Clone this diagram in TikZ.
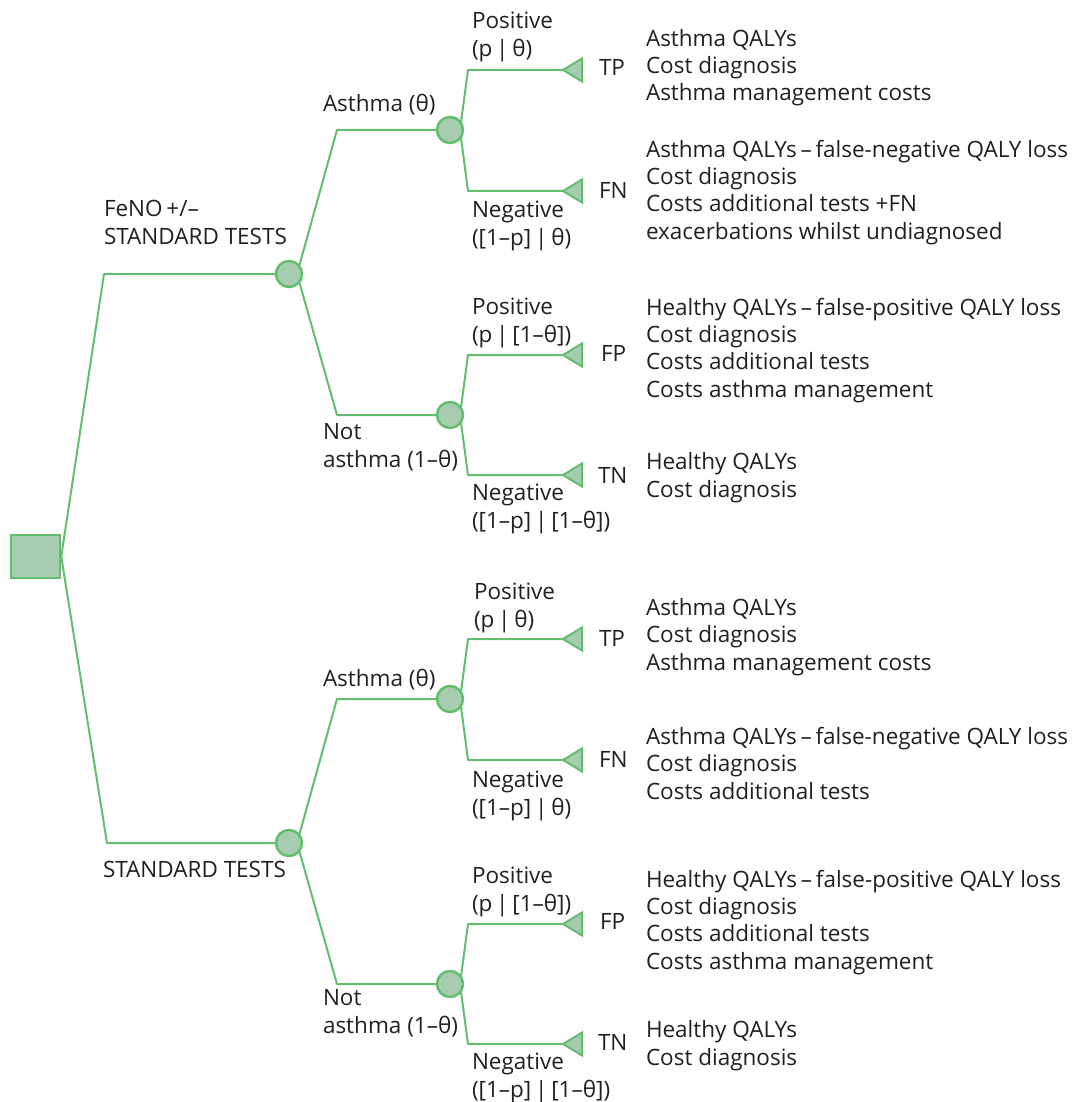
\documentclass[tikz,border=0pt]{standalone}
\usepackage{fontspec}
\setmainfont{Open Sans}
\usetikzlibrary{calc,backgrounds}
\definecolor{ink}{HTML}{231F20}
\definecolor{edgegreen}{HTML}{64BD6C}
\definecolor{nodefill}{HTML}{A6CDB0}
\begin{document}
\begin{tikzpicture}[x=1pt,y=-1pt,
  edge/.style={draw=edgegreen, line width=2pt, line join=round},
  chance/.style={circle, draw=edgegreen, fill=nodefill, line width=2.5pt, minimum size=26pt, inner sep=0pt},
  decision/.style={rectangle, draw=edgegreen, fill=nodefill, line width=2.5pt, minimum width=49pt, minimum height=43pt, inner sep=0pt},
  term/.style={draw=edgegreen, fill=nodefill, line width=2pt, line join=miter},
  txt/.style={anchor=base west, inner sep=0pt, outer sep=0pt, align=left, text=ink, font=\fontsize{22.5}{28}\selectfont},
  rtxt/.style={anchor=base west, inner sep=0pt, outer sep=0pt, align=left, text=ink, font=\fontsize{22.5}{27.3}\selectfont}]
\useasboundingbox (0,0) rectangle (1083,1102);

% knees
\coordinate (k0) at (104,0);
\coordinate (k0b) at (107,0);
\coordinate (k1) at (337,0);
\coordinate (k2) at (468,0);

% decision node
\node[decision] (root) at (35.5,556.5) {};

% chance nodes
\node[chance] (C1) at (289,274) {};
\node[chance] (A1) at (450,130) {};
\node[chance] (N1) at (450,415) {};
\node[chance] (C2) at (289,843) {};
\node[chance] (A2) at (450,699) {};
\node[chance] (N2) at (450,984) {};

% terminal tips
\coordinate (tTP1) at (563,70);
\coordinate (tFN1) at (563,191);
\coordinate (tFP1) at (563,355);
\coordinate (tTN1) at (563,475);
\coordinate (tTP2) at (563,639);
\coordinate (tFN2) at (563,760);
\coordinate (tFP2) at (563,924);
\coordinate (tTN2) at (563,1044);
\foreach \t in {tTP1,tFN1,tFP1,tTN1,tTP2,tFN2,tFP2,tTN2}{
  \path[term] (\t) -- ++(19,-11.5) -- ++(0,23) -- cycle;
}

\begin{scope}[on background layer]
\draw[edge] (root.east) -- (C1 -| k0) -- (C1.center);
\draw[edge] (root.east) -- (C2 -| k0b) -- (C2.center);
\draw[edge] ($(C1)+(8,0)$) -- (A1 -| k1) -- (A1.center);
\draw[edge] ($(C1)+(8,0)$) -- (N1 -| k1) -- (N1.center);
\draw[edge] ($(C2)+(8,0)$) -- (A2 -| k1) -- (A2.center);
\draw[edge] ($(C2)+(8,0)$) -- (N2 -| k1) -- (N2.center);
\draw[edge] ($(A1)+(10,0)$) -- (tTP1 -| k2) -- (tTP1);
\draw[edge] ($(A1)+(10,0)$) -- (tFN1 -| k2) -- (tFN1);
\draw[edge] ($(N1)+(10,0)$) -- (tFP1 -| k2) -- (tFP1);
\draw[edge] ($(N1)+(10,0)$) -- (tTN1 -| k2) -- (tTN1);
\draw[edge] ($(A2)+(10,0)$) -- (tTP2 -| k2) -- (tTP2);
\draw[edge] ($(A2)+(10,0)$) -- (tFN2 -| k2) -- (tFN2);
\draw[edge] ($(N2)+(10,0)$) -- (tFP2 -| k2) -- (tFP2);
\draw[edge] ($(N2)+(10,0)$) -- (tTN2 -| k2) -- (tTN2);
\end{scope}

% ---------- upper half labels (anchored at the baseline of the last line) ----------
\node[txt] (lFeNO) at (104,244) {FeNO\,+/–\\STANDARD TESTS};
\node[txt] (lA1) at (323,112) {Asthma (θ)};
\node[txt] (lN1) at (323,467) {Not\\asthma (1–θ)};
\node[txt] (lP1) at (472,57) {Positive\\(p\,|\,θ)};
\node[txt] (lNg1) at (472,245) {Negative\\([1–p]\,|\,θ)};
\node[txt] (lP1b) at (472,342) {Positive\\(p\,|\,[1–θ])};
\node[txt] (lNg1b) at (472,528) {Negative\\([1–p]\,|\,[1–θ])};
\node[txt] (xTP1) at (599,76) {TP};
\node[txt] (xFN1) at (599,198) {FN};
\node[txt] (xFP1) at (601,361) {FP};
\node[txt] (xTN1) at (598,483) {TN};
\node[rtxt] (oTP1) at (646,101) {Asthma QALYs\\Cost diagnosis\\Asthma management costs};
\node[rtxt] (oFN1) at (646,239) {Asthma QALYs\,–\,false-negative QALY loss\\Cost diagnosis\\Costs additional tests +FN\\exacerbations whilst undiagnosed};
\node[rtxt] (oFP1) at (646,397) {Healthy QALYs\,–\,false-positive QALY loss\\Cost diagnosis\\Costs additional tests\\Costs asthma management};
\node[rtxt] (oTN1) at (646,497) {Healthy QALYs\\Cost diagnosis};

% ---------- lower half labels ----------
\node[txt] (lStd) at (103,877) {STANDARD TESTS};
\node[txt] (lA2) at (323,686) {Asthma (θ)};
\node[txt] (lN2) at (323,1033) {Not\\asthma (1–θ)};
\node[txt] (lP2) at (474,627) {Positive\\(p\,|\,θ)};
\node[txt] (lNg2) at (472,815) {Negative\\([1–p]\,|\,θ)};
\node[txt] (lP2b) at (472,911) {Positive\\(p\,|\,[1–θ])};
\node[txt] (lNg2b) at (472,1097) {Negative\\([1–p]\,|\,[1–θ])};
\node[txt] (xTP2) at (599,646) {TP};
\node[txt] (xFN2) at (599,767) {FN};
\node[txt] (xFP2) at (600,929) {FP};
\node[txt] (xTN2) at (598,1050) {TN};
\node[rtxt] (oTP2) at (646,670) {Asthma QALYs\\Cost diagnosis\\Asthma management costs};
\node[rtxt] (oFN2) at (646,799) {Asthma QALYs\,–\,false-negative QALY loss\\Cost diagnosis\\Costs additional tests};
\node[rtxt] (oFP2) at (646,969) {Healthy QALYs\,–\,false-positive QALY loss\\Cost diagnosis\\Costs additional tests\\Costs asthma management};
\node[rtxt] (oTN2) at (646,1065) {Healthy QALYs\\Cost diagnosis};
\end{tikzpicture}
\end{document}
